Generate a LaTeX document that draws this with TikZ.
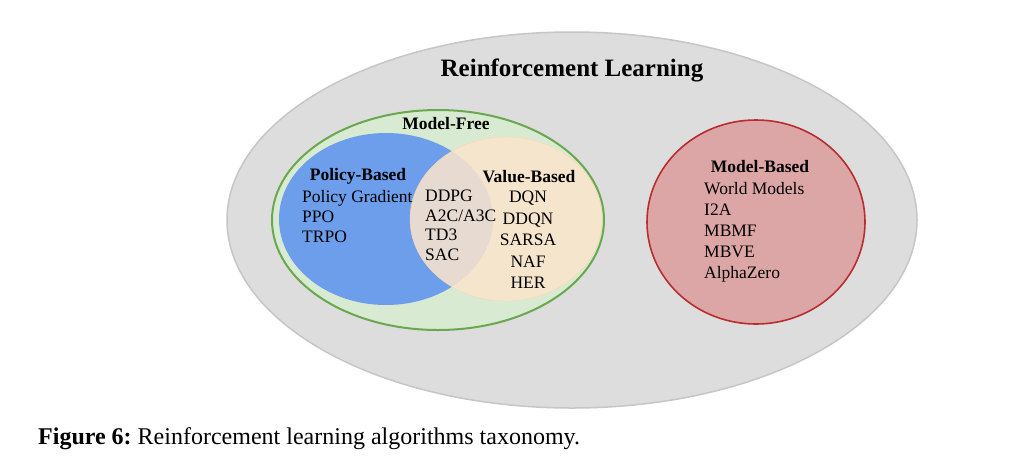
\documentclass[tikz,border=0pt]{standalone}
\usepackage{fontspec}
\setmainfont{Liberation Serif}
\frenchspacing
\definecolor{rlgray}{RGB}{221,221,221}
\definecolor{rledge}{RGB}{198,198,198}
\definecolor{mfgreen}{RGB}{217,234,211}
\definecolor{mfedge}{RGB}{106,168,79}
\definecolor{pbblue}{RGB}{109,158,235}
\definecolor{vbpeach}{RGB}{252,229,205}
\definecolor{mbred}{RGB}{221,166,166}
\definecolor{mbedge}{RGB}{184,45,45}
\begin{document}
\begin{tikzpicture}[x=1pt, y=-1pt,
  lbl/.style={inner sep=0pt, text height=11.6pt, text depth=0pt, font=\fontsize{17.5}{21}\selectfont},
  head/.style={lbl, font=\fontsize{17.5}{21}\selectfont\bfseries}]
\useasboundingbox[fill=white] (0,0) rectangle (1030,467);
% Sets
\draw[rledge, line width=1.5pt, fill=rlgray] (572,220) ellipse [x radius=345, y radius=188];
\draw[mfedge, line width=2pt, fill=mfgreen] (438,220) ellipse [x radius=166, y radius=110];
\fill[pbblue] (386,219) ellipse [x radius=107, y radius=86];
\draw[vbpeach!85!orange, thin, fill=vbpeach, fill opacity=0.85] (506,219) ellipse [x radius=96, y radius=82];
\draw[mbedge, line width=1.6pt, fill=mbred] (756,222) ellipse [x radius=109, y radius=102];

% Headings
\node[head, text height=16.5pt, font=\fontsize{25}{30}\selectfont\bfseries] (rl) at (572,68) {Reinforcement Learning};
\node[head] (mf) at (446,124) {Model-Free};
\node[head] (pb) at (358,175) {Policy-Based};
\node[head] (vb) at (529,177) {Value-Based};
\node[head] (mb) at (760,167) {Model-Based};

% Policy-based methods
\foreach \t [count=\i] in {Policy Gradient,PPO,TRPO}
    \node[lbl, anchor=west] (pb\i) at (302,177+20*\i) {\t};
% Actor-critic (overlap)
\foreach \t [count=\i] in {DDPG,A2C/A3C,TD3,SAC}
    \node[lbl, anchor=west] (ac\i) at (425,176.5+19.5*\i) {\t};
% Value-based methods
\foreach \t [count=\i] in {DQN,DDQN,SARSA,NAF,HER}
    \node[lbl] (vb\i) at (528,175.5+21.5*\i) {\t};
% Model-based methods
\foreach \t [count=\i] in {World Models,I2A,MBMF,MBVE,AlphaZero}
    \node[lbl, anchor=west] (mb\i) at (704,167+21.2*\i) {\t};

% Caption
\node[lbl, anchor=west, text height=15.5pt, font=\fontsize{24}{28}\selectfont] (cap) at (38,437)
    {\textbf{Figure 6:} Reinforcement learning algorithms taxonomy.};
\end{tikzpicture}
\end{document}
